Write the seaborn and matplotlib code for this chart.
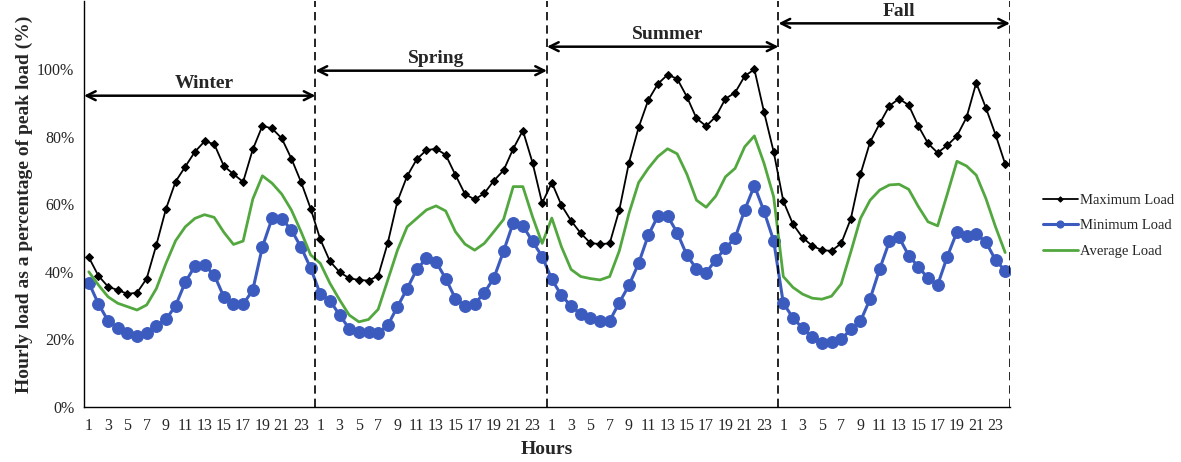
import numpy as np
import pandas as pd
import matplotlib
matplotlib.use("Agg")
import matplotlib.pyplot as plt
import seaborn as sns

# hourly load as fraction of peak load, 24 h per season (Winter, Spring, Summer, Fall)
seasons = ["Winter", "Spring", "Summer", "Fall"]
hours = list(range(1, 25))

max_load = [
    44.3, 38.8, 35.6, 34.6, 33.5, 33.8, 38.0, 47.9, 58.6, 66.7, 71.1, 75.5,
    78.6, 77.8, 71.3, 68.9, 66.6, 76.2, 83.2, 82.4, 79.5, 73.5, 66.6, 58.7,
    49.6, 43.1, 39.9, 38.1, 37.6, 37.4, 38.8, 48.6, 60.9, 68.3, 73.3, 76.0,
    76.4, 74.6, 68.7, 63.0, 61.4, 63.2, 67.0, 70.0, 76.4, 81.8, 72.3, 60.3,
    66.4, 59.7, 55.1, 51.4, 48.5, 48.2, 48.4, 58.3, 72.3, 82.7, 90.8, 95.6,
    98.3, 97.1, 91.8, 85.4, 83.1, 85.9, 91.2, 93.0, 97.9, 99.9, 87.3, 75.5,
    60.9, 54.1, 50.1, 47.7, 46.4, 46.2, 48.4, 55.7, 68.9, 78.4, 83.9, 89.1,
    91.2, 89.3, 83.1, 78.0, 75.2, 77.4, 80.2, 85.7, 95.9, 88.5, 80.6, 71.9,
]
min_load = [
    36.8, 30.5, 25.5, 23.5, 22.0, 21.1, 21.8, 24.0, 25.9, 30.0, 36.9, 41.7,
    41.9, 39.1, 32.6, 30.6, 30.4, 34.6, 47.4, 55.8, 55.7, 52.4, 47.3, 41.1,
    33.4, 31.5, 27.2, 23.2, 22.2, 22.2, 22.0, 24.2, 29.7, 35.0, 40.7, 44.0,
    42.9, 38.0, 32.1, 30.0, 30.5, 33.8, 38.2, 46.1, 54.5, 53.6, 49.0, 44.5,
    37.8, 33.0, 29.9, 27.5, 26.2, 25.5, 25.5, 30.9, 36.0, 42.5, 50.8, 56.5,
    56.5, 51.6, 44.9, 40.9, 39.7, 43.6, 47.0, 50.0, 58.3, 65.5, 57.9, 49.2,
    30.7, 26.4, 23.3, 20.6, 19.0, 19.3, 20.0, 23.0, 25.4, 32.0, 40.9, 49.0,
    50.2, 44.8, 41.5, 38.1, 36.1, 44.5, 51.8, 50.6, 51.2, 48.8, 43.5, 40.3,
]
avg_load = [
    40.0, 36.1, 32.6, 30.7, 29.7, 28.7, 30.2, 35.0, 42.5, 49.2, 53.3, 55.8,
    56.9, 56.1, 51.7, 48.1, 49.1, 61.5, 68.4, 66.2, 63.0, 58.3, 51.9, 45.0,
    42.5, 36.6, 31.7, 27.2, 25.2, 25.9, 28.9, 37.6, 46.4, 53.3, 55.8, 58.3,
    59.5, 58.0, 51.9, 48.2, 46.4, 48.4, 51.9, 55.5, 65.2, 65.2, 56.3, 48.4,
    55.9, 47.4, 40.7, 38.6, 38.0, 37.6, 38.6, 46.2, 57.3, 66.4, 70.6, 74.1,
    76.4, 74.9, 68.9, 61.2, 59.1, 62.4, 68.1, 70.6, 77.0, 80.2, 72.1, 62.2,
    38.6, 35.4, 33.4, 32.2, 31.9, 32.8, 36.4, 45.9, 55.8, 61.2, 64.2, 65.7,
    65.9, 64.4, 59.3, 54.8, 53.6, 63.0, 72.7, 71.3, 68.6, 61.7, 53.3, 45.7,
]

n = len(seasons) * len(hours)
df = pd.DataFrame({
    "idx": np.arange(n),
    "hour": hours * len(seasons),
    "max": np.array(max_load) / 100,
    "min": np.array(min_load) / 100,
    "avg": np.array(avg_load) / 100,
})

sns.set_style("white")
plt.rcParams["font.family"] = ["Liberation Serif", "DejaVu Serif"]

fig = plt.figure(figsize=(11.81, 4.62), dpi=100)
ax = fig.add_axes([0.0711, 0.119, 0.7841, 0.878])

sns.lineplot(data=df, x="idx", y="max", ax=ax, color="black", lw=1.3,
             marker="D", markersize=4.5, markeredgecolor="black", label="Maximum Load")
sns.lineplot(data=df, x="idx", y="min", ax=ax, color="#3c5bbf", lw=2.2,
             marker="o", markersize=8.5, markeredgecolor="#3c5bbf", label="Minimum Load")
sns.lineplot(data=df, x="idx", y="avg", ax=ax, color="#52a83f", lw=2.0,
             label="Average Load")

ax.set_xlim(-0.5, n - 0.5)
ax.set_ylim(0, 1.2)

# season dividers and arrows
arrow_y = [0.921, 0.995, 1.066, 1.135]
for k, name in enumerate(seasons):
    x0, x1 = k * 24 - 0.5, (k + 1) * 24 - 0.5
    ax.axvline(x1, color="black", ls=(0, (5, 3)), lw=1.2)
    ax.annotate("", xy=(x0, arrow_y[k]), xytext=(x1, arrow_y[k]),
                arrowprops=dict(arrowstyle="<->", color="black", lw=1.8,
                                mutation_scale=16, shrinkA=0, shrinkB=0))
    ax.text((x0 + x1) / 2 + 0.5, arrow_y[k] + 0.036, name, ha="center", va="center",
            fontsize=14, fontweight="bold")

# y axis
ax.set_yticks(np.arange(0, 1.01, 0.2))
ax.set_yticklabels([f"{int(round(v * 100))}%" for v in np.arange(0, 1.01, 0.2)])
ax.tick_params(axis="y", direction="out", length=4, color="black", labelsize=11.5, pad=3)

# x axis: ticks on category edges, labels on odd hours
ax.set_xticks(np.arange(n + 1) - 0.5)
ax.set_xticklabels([])
lab_pos = [i for i in range(n) if df["hour"][i] % 2 == 1]
ax.set_xticks(lab_pos, minor=True)
ax.set_xticklabels([str(df["hour"][i]) for i in lab_pos], minor=True)
ax.tick_params(axis="x", which="major", direction="out", length=5, color="#888888")
ax.tick_params(axis="x", which="minor", length=0, labelsize=11.5, pad=8)

for s in ["top", "right"]:
    ax.spines[s].set_visible(False)
for s in ["left", "bottom"]:
    ax.spines[s].set_color("black")
    ax.spines[s].set_linewidth(1.0)

ax.set_xlabel("Hours", fontsize=14, fontweight="bold", labelpad=5)
ax.set_ylabel("Hourly load as a percentage of peak load (%)", fontsize=14,
              fontweight="bold", labelpad=3)

ax.legend(loc="center left", bbox_to_anchor=(1.021, 0.447), frameon=False,
          fontsize=10.5, handlelength=2.4, handletextpad=0.15, labelspacing=0.85,
          markerscale=0.6)

fig.savefig("out.png", dpi=100)
